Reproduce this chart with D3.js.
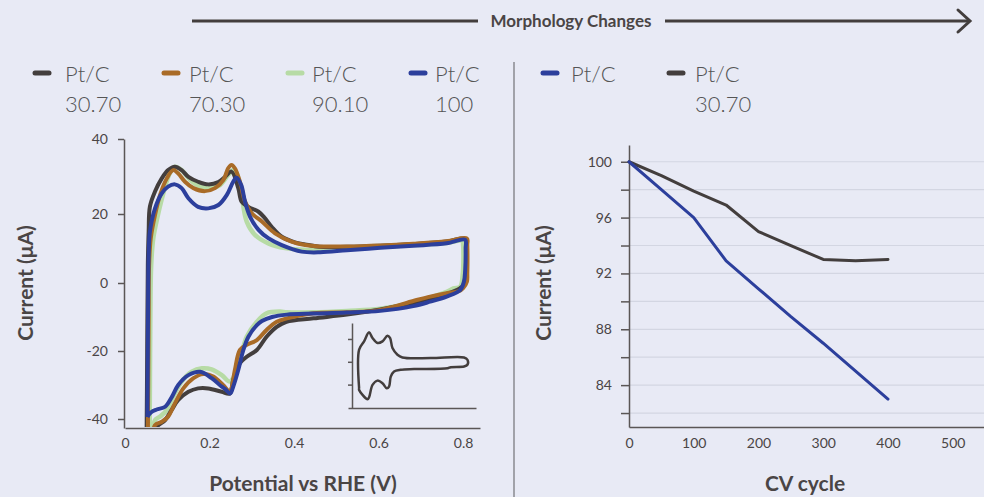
<!DOCTYPE html>
<html>
<head>
<meta charset="utf-8">
<script src="https://cdn.jsdelivr.net/npm/d3@7/dist/d3.min.js"></script>
<style>
  body { margin: 0; background: #e8eaf5; }
  svg { display: block; font-family: Lato, "Open Sans", sans-serif; }
</style>
</head>
<body>
<div id="chart"></div>
<script>
// CV loops, [potential V, current uA]
const cv3070 = [[0.051,-46],[0.052,-30],[0.053,-10],[0.054,5],[0.056,15],[0.059,22.0],[0.071,26.0],[0.087,29.5],[0.102,31.7],[0.118,32.6],[0.134,31.7],[0.150,29.9],[0.173,28.6],[0.197,27.9],[0.221,28.5],[0.237,29.9],[0.252,31.3],[0.268,26.9],[0.276,23.3],[0.292,21.9],[0.316,20.6],[0.331,18.8],[0.347,16.3],[0.371,13.4],[0.402,11.8],[0.426,11.2],[0.46,10.5],[0.525,10.5],[0.604,10.8],[0.682,11.3],[0.761,12.0],[0.805,12.8],
  [0.808,11],[0.808,3],[0.806,0],[0.793,-1.5],[0.761,-3.2],[0.722,-4.5],[0.682,-5.8],[0.604,-7.8],[0.525,-9.3],[0.446,-10.4],[0.382,-11.4],[0.359,-12.9],[0.335,-15.8],[0.312,-19.7],[0.288,-21.7],[0.272,-23.6],[0.256,-28.5],[0.248,-32.5],[0.229,-32.0],[0.197,-31.0],[0.173,-31.0],[0.150,-32.0],[0.126,-34.4],[0.110,-37.4],[0.095,-40.3],[0.079,-41.8],[0.067,-44],[0.060,-47]];
const cv7030 = [[0.054,-47],[0.055,-30],[0.056,-10],[0.057,5],[0.061,13.0],[0.071,19.7],[0.083,25.1],[0.099,29.5],[0.114,31.7],[0.126,30.8],[0.142,28.6],[0.162,26.9],[0.189,26.1],[0.213,26.9],[0.233,29.1],[0.244,32.2],[0.252,33.1],[0.260,32.2],[0.272,28.6],[0.284,23.3],[0.300,20.2],[0.324,17.8],[0.355,14.4],[0.394,12.0],[0.426,11.0],[0.46,10.6],[0.525,10.6],[0.604,10.9],[0.682,11.4],[0.761,12.1],[0.809,12.9],
  [0.810,11],[0.810,3],[0.809,0.4],[0.800,-1.5],[0.790,-2.4],[0.761,-3.0],[0.722,-4.0],[0.682,-5.3],[0.604,-7.9],[0.525,-8.6],[0.446,-8.9],[0.383,-10.4],[0.359,-11.4],[0.335,-13.8],[0.312,-16.8],[0.288,-18.2],[0.272,-19.7],[0.260,-25.6],[0.252,-31.0],[0.248,-32.0],[0.232,-30.0],[0.209,-27.5],[0.185,-26.8],[0.162,-28.0],[0.138,-31.0],[0.118,-35.4],[0.102,-39.3],[0.087,-40.8],[0.071,-41.8],[0.063,-47]];
const cv9010 = [[0.058,-47],[0.059,-30],[0.060,-10],[0.062,5.2],[0.067,13.0],[0.078,19.7],[0.092,26.0],[0.106,30.9],[0.118,32.6],[0.134,31.7],[0.154,29.1],[0.178,27.3],[0.201,26.9],[0.225,27.7],[0.244,30.4],[0.256,31.7],[0.264,30.8],[0.272,27.7],[0.276,25.1],[0.288,17.8],[0.308,13.9],[0.339,11.5],[0.379,10.1],[0.426,9.6],[0.46,9.6],[0.525,9.9],[0.604,10.4],[0.682,11.0],[0.761,11.6],[0.798,12.2],
  [0.800,11],[0.799,2.3],[0.793,-1.1],[0.777,-1.6],[0.761,-2.6],[0.682,-5.7],[0.604,-7.6],[0.525,-8.2],[0.446,-8.6],[0.383,-8.6],[0.367,-8.4],[0.335,-8.9],[0.312,-11.4],[0.288,-15.8],[0.276,-20.7],[0.264,-25.6],[0.248,-29.0],[0.229,-27.1],[0.205,-25.4],[0.182,-25.1],[0.158,-26.1],[0.134,-29.0],[0.114,-33.5],[0.099,-37.4],[0.083,-39.3],[0.071,-40.3],[0.066,-47]];
const cv100 = [[0.053,-39.4],[0.054,-20],[0.055,0],[0.056,8],[0.059,14.9],[0.071,21.5],[0.087,25.5],[0.102,27.3],[0.118,27.9],[0.134,26.9],[0.150,24.2],[0.173,21.9],[0.197,21.5],[0.221,22.4],[0.241,25.1],[0.256,28.6],[0.264,29.7],[0.275,27.7],[0.284,23.3],[0.296,19.2],[0.316,15.4],[0.339,13.0],[0.371,11.0],[0.418,9.1],[0.462,8.9],[0.525,9.5],[0.604,10.2],[0.682,10.8],[0.761,11.5],[0.805,12.5],
  [0.806,10],[0.805,3.8],[0.802,0.4],[0.793,-2.1],[0.761,-4.0],[0.722,-5.5],[0.682,-6.8],[0.604,-8.2],[0.525,-8.7],[0.446,-9.0],[0.383,-9.3],[0.348,-10.0],[0.324,-11.2],[0.312,-12.4],[0.292,-15.8],[0.280,-19.7],[0.268,-25.6],[0.256,-30.5],[0.249,-32.5],[0.237,-31.2],[0.229,-30.5],[0.205,-28.0],[0.178,-26.1],[0.150,-27.1],[0.126,-30.0],[0.111,-33.5],[0.095,-36.4],[0.075,-37.2],[0.062,-38.0],[0.053,-39.4]];
// small inset loop
const insetCV = [[0.05,-23.2],[0.05,10.6],[0.085,17.9],[0.12,25.8],[0.144,20.9],[0.179,16.5],[0.214,17.9],[0.249,22.9],[0.267,20.9],[0.284,12.1],[0.319,6.2],[0.354,3.8],[0.553,3.3],[0.786,3.8],[0.81,1.8],[0.81,-2.6],[0.786,-4.1],[0.693,-4.7],[0.67,-5.6],[0.436,-6.4],[0.342,-7.0],[0.295,-8.5],[0.272,-13.0],[0.26,-21.8],[0.244,-23.2],[0.214,-18.8],[0.179,-16.5],[0.144,-20.3],[0.12,-31.1],[0.109,-32.9],[0.05,-24.7],[0.05,-23.2]];

// current decay vs CV cycle
const cycles = [0, 50, 100, 150, 200, 250, 300, 350, 400];
const current100 = [100, 98, 96, 92.9, 90.9, 88.9, 87, 85, 83];
const current3070 = [100, 99, 97.9, 96.9, 95, 94, 93, 92.9, 93];

const cvTicksX = [0, 0.2, 0.4, 0.6, 0.8];
const cvTicksY = [-40, -20, 0, 20, 40];
const cycleTicks = [0, 100, 200, 300, 400, 500];
const decayTicks = [82, 84, 86, 88, 90, 92, 94, 96, 98, 100];

const leftLegend = [["Pt/C", "30.70"], ["Pt/C", "70.30"], ["Pt/C", "90.10"], ["Pt/C", "100"]];
const rightLegend = [["Pt/C", ""], ["Pt/C", "30.70"]];

const dark = "#433e3d", brown = "#a96b27", green = "#b7dba5", blue = "#2c3f9c";
const textCol = "#4a4545";

const svg = d3.select("#chart").append("svg")
  .attr("width", 984)
  .attr("height", 497);

svg.append("rect").attr("width", 984).attr("height", 497).attr("fill", "#e8eaf5");

// top arrow
svg.append("line").attr("x1", 192).attr("x2", 478).attr("y1", 21).attr("y2", 21)
  .attr("stroke", dark).attr("stroke-width", 3);
svg.append("line").attr("x1", 665).attr("x2", 970).attr("y1", 21).attr("y2", 21)
  .attr("stroke", dark).attr("stroke-width", 3);
svg.append("path").attr("d", "M958,10 L970,21 L958,32")
  .attr("fill", "none").attr("stroke", dark).attr("stroke-width", 3).attr("stroke-linecap", "round");
svg.append("text").attr("x", 571).attr("y", 27).attr("text-anchor", "middle")
  .attr("font-size", 17).attr("font-weight", 700).attr("fill", textCol)
  .text("Morphology Changes");

// divider
svg.append("line").attr("x1", 514).attr("x2", 514).attr("y1", 62).attr("y2", 497)
  .attr("stroke", "#8a8a8f").attr("stroke-width", 1.5);

// legends
function legend(items, colors, xs, swatchXs) {
  items.forEach(function(d, i) {
    svg.append("line")
      .attr("x1", swatchXs[i]).attr("x2", swatchXs[i] + 14)
      .attr("y1", 73).attr("y2", 73)
      .attr("stroke", colors[i]).attr("stroke-width", 5).attr("stroke-linecap", "round");
    svg.append("text").attr("x", xs[i]).attr("y", 82)
      .attr("font-size", 22).attr("font-weight", 300).attr("fill", "#555").text(d[0]);
    svg.append("text").attr("x", xs[i]).attr("y", 112)
      .attr("font-size", 22).attr("font-weight", 300).attr("fill", "#555").text(d[1]);
  });
}
legend(leftLegend, [dark, brown, green, blue], [65, 189, 312, 435], [35, 164, 288, 411]);
legend(rightLegend, [blue, dark], [571, 695], [543, 669]);

// ---------- left: CV ----------
const x = d3.scaleLinear().domain([0, 0.84]).range([125, 480]);
const y = d3.scaleLinear()
  .domain([-42.6, -40, -20, 0, 20, 40])
  .range([428, 419, 351, 283, 214, 139]);

svg.append("defs").append("clipPath").attr("id", "cvclip")
  .append("rect").attr("x", 124).attr("y", 120).attr("width", 360).attr("height", 307);

const cvLine = d3.line()
  .x(d => x(d[0]))
  .y(d => y(d[1]))
  .curve(d3.curveCatmullRom.alpha(0.5));

const cvSeries = [[cv9010, green, 4.5], [cv3070, dark, 4], [cv7030, brown, 4], [cv100, blue, 4]];
const cvG = svg.append("g").attr("clip-path", "url(#cvclip)");
cvSeries.forEach(function(s) {
  cvG.append("path")
    .attr("d", cvLine(s[0]))
    .attr("fill", "none")
    .attr("stroke", s[1])
    .attr("stroke-width", s[2])
    .attr("stroke-linejoin", "round");
});

function styleAxis(g) {
  g.select(".domain").attr("stroke", "#5a5656").attr("stroke-width", 1.5);
  g.selectAll(".tick line").attr("stroke", "#5a5656").attr("stroke-width", 1.5);
  g.selectAll("text").attr("fill", textCol).attr("font-size", 14).attr("font-family", "Lato");
}

svg.append("g").attr("transform", "translate(124,0)")
  .call(d3.axisLeft(y).tickValues(cvTicksY).tickSize(6).tickSizeOuter(0).tickPadding(10).tickFormat(d => String(d)))
  .call(styleAxis);
svg.append("g").attr("transform", "translate(0,428)")
  .call(d3.axisBottom(x).tickValues(cvTicksX).tickSize(0).tickPadding(10).tickFormat(d => d))
  .call(styleAxis);

// inset
const ix = d3.scaleLinear().domain([-0.028, 0.87]).range([348, 476]);
const iy = d3.scaleLinear().domain([-40.5, 34]).range([408, 323]);
svg.append("g").attr("transform", "translate(352,0)")
  .call(d3.axisLeft(iy).tickValues([-20, 0, 20]).tickSize(4).tickSizeOuter(0).tickFormat(""))
  .call(styleAxis);
svg.append("g").attr("transform", "translate(0,408)")
  .call(d3.axisBottom(ix).tickValues([]).tickSizeOuter(0))
  .call(styleAxis);
svg.append("path")
  .attr("d", d3.line().x(d => ix(d[0])).y(d => iy(d[1])).curve(d3.curveCatmullRom.alpha(0.5))(insetCV))
  .attr("fill", "none").attr("stroke", dark).attr("stroke-width", 2.5).attr("stroke-linejoin", "round");

svg.append("text")
  .attr("transform", "translate(33,283) rotate(-90)")
  .attr("text-anchor", "middle").attr("font-size", 21).attr("font-weight", 700).attr("fill", textCol)
  .text("Current (μA)");
svg.append("text").attr("x", 303).attr("y", 491).attr("text-anchor", "middle")
  .attr("font-size", 21).attr("font-weight", 700).attr("fill", textCol)
  .text("Potential vs RHE (V)");

// ---------- right: current vs cycle ----------
const x2 = d3.scaleLinear().domain([0, 548.3]).range([629, 984]);
const y2 = d3.scaleLinear().domain([81, 101.2]).range([427, 145]);

svg.append("g").selectAll("line").data(decayTicks).enter().append("line")
  .attr("x1", 629).attr("x2", 984)
  .attr("y1", d => y2(d)).attr("y2", d => y2(d))
  .attr("stroke", "#d3d6e2").attr("stroke-width", 1.2);

svg.append("g").attr("transform", "translate(629,0)")
  .call(d3.axisLeft(y2).tickValues(decayTicks).tickSize(8).tickSizeOuter(0).tickPadding(9)
    .tickFormat(d => d % 4 === 0 ? d : ""))
  .call(styleAxis);
svg.append("g").attr("transform", "translate(0,427)")
  .call(d3.axisBottom(x2).tickValues(cycleTicks).tickSize(0).tickPadding(11).tickSizeOuter(0))
  .call(styleAxis);

const decayLine = d3.line()
  .x((d, i) => x2(cycles[i]))
  .y(d => y2(d));
[[current3070, dark], [current100, blue]].forEach(function(s) {
  svg.append("path")
    .attr("d", decayLine(s[0]))
    .attr("fill", "none").attr("stroke", s[1]).attr("stroke-width", 3)
    .attr("stroke-linejoin", "round").attr("stroke-linecap", "round");
});

svg.append("text")
  .attr("transform", "translate(551,283) rotate(-90)")
  .attr("text-anchor", "middle").attr("font-size", 21).attr("font-weight", 700).attr("fill", textCol)
  .text("Current (μA)");
svg.append("text").attr("x", 805).attr("y", 491).attr("text-anchor", "middle")
  .attr("font-size", 21).attr("font-weight", 700).attr("fill", textCol)
  .text("CV cycle");
</script>
</body>
</html>
